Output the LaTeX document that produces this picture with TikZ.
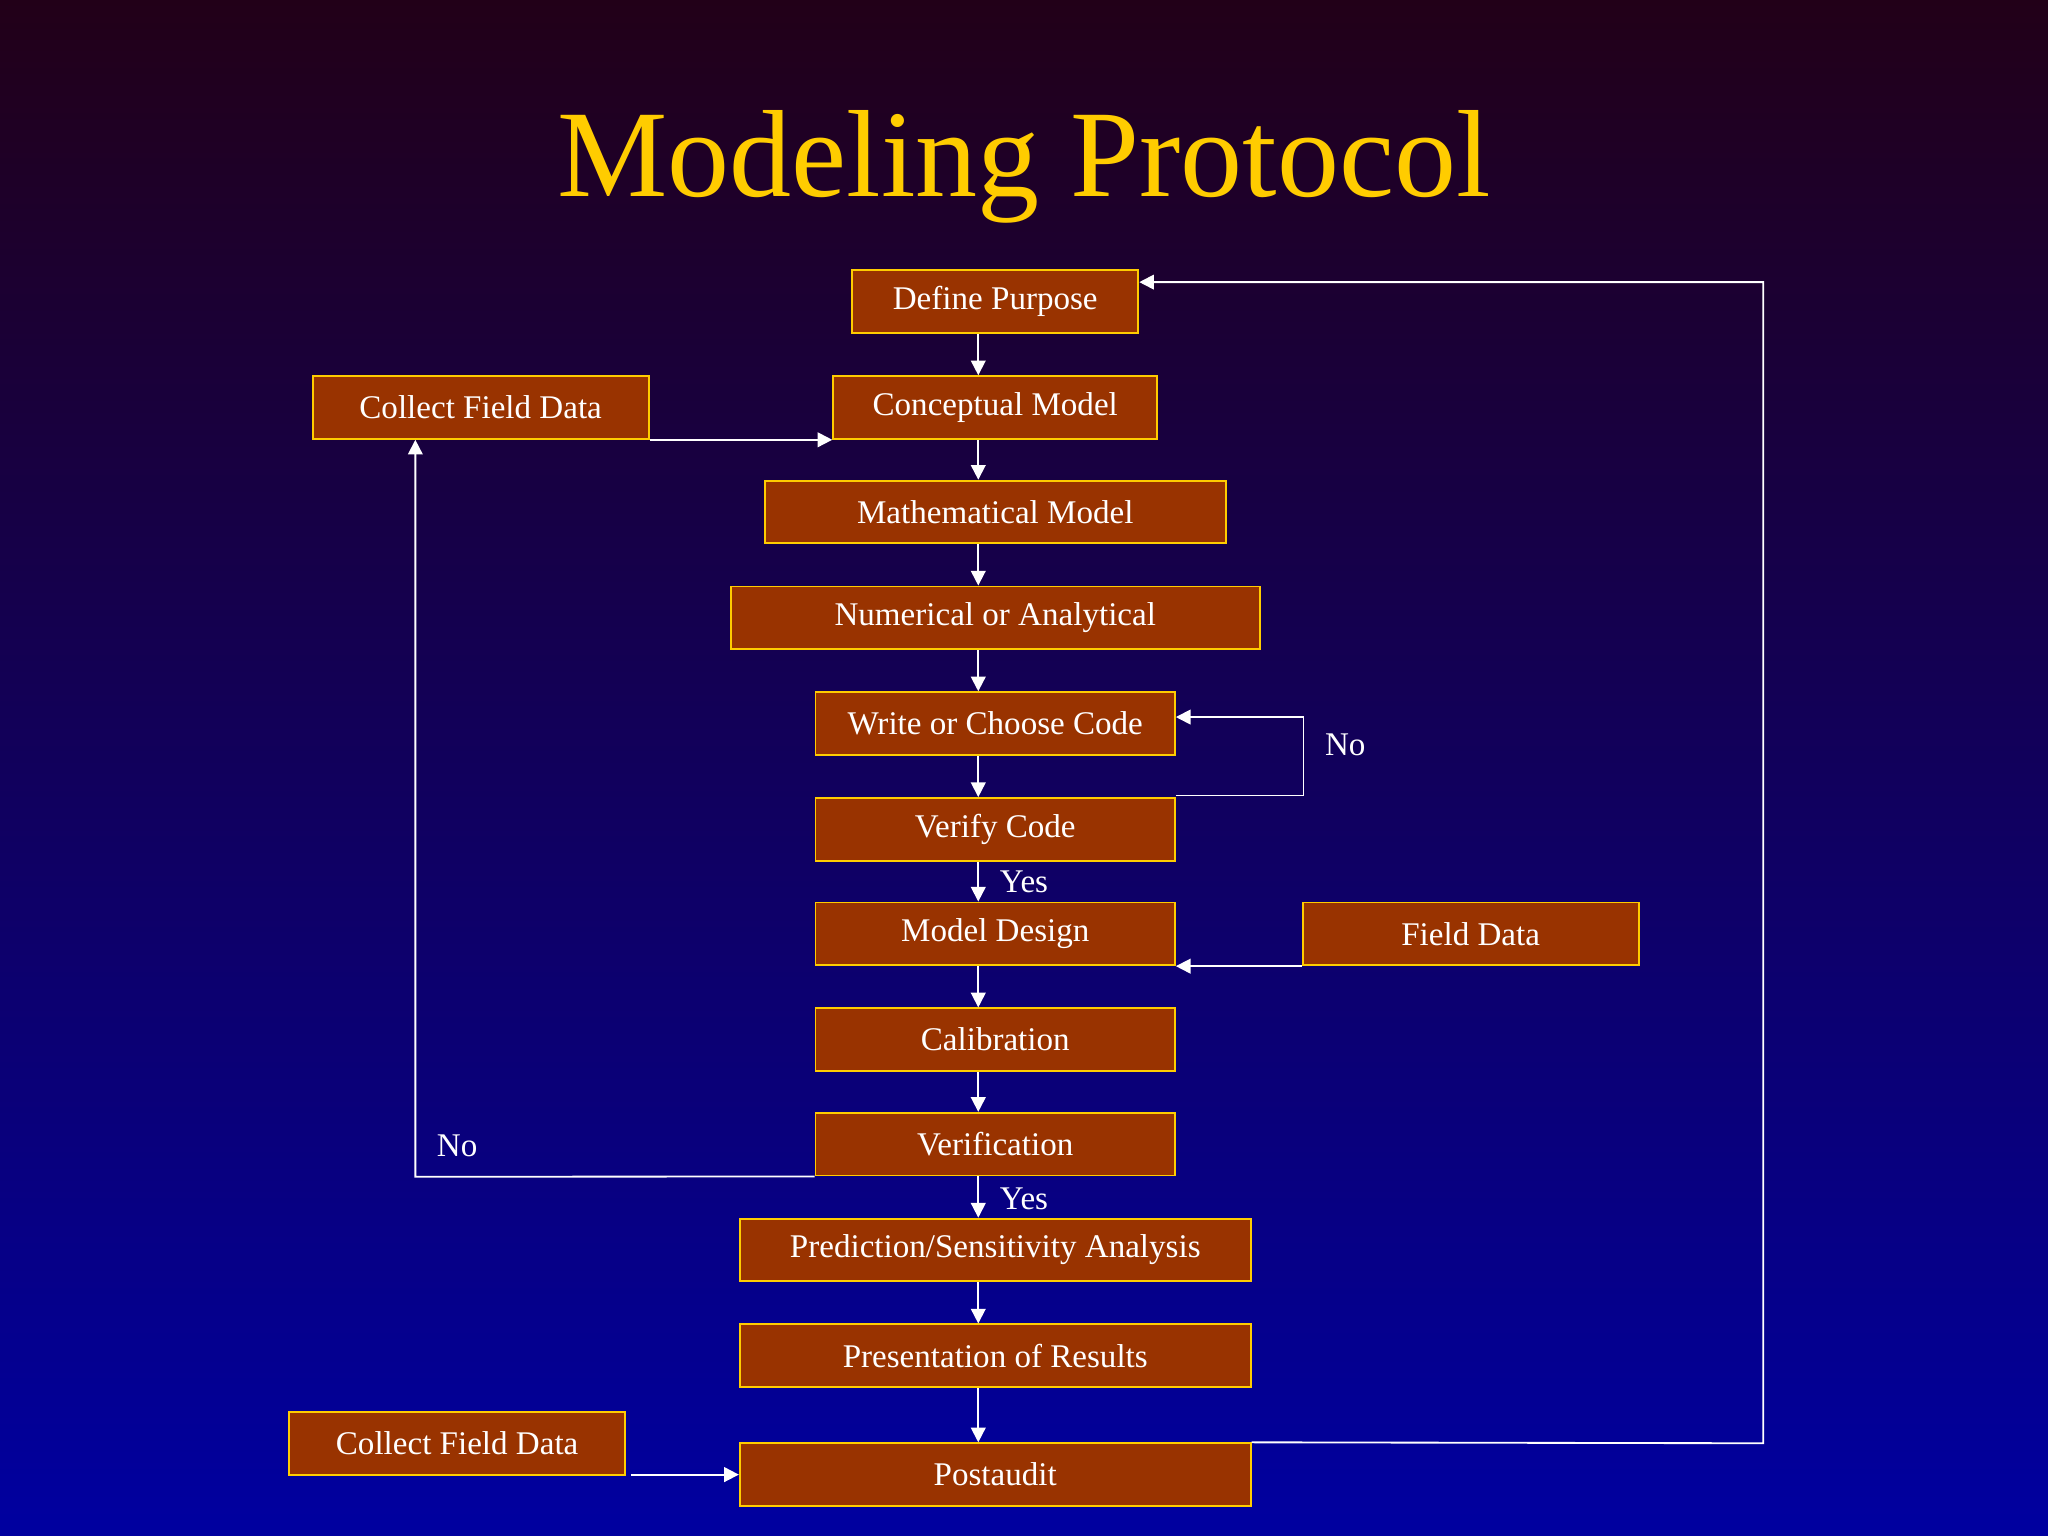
\documentclass[tikz,border=0pt]{standalone}
\usepackage{fontspec}
\setmainfont{Liberation Serif}
\usetikzlibrary{arrows.meta,calc}
\definecolor{mybrown}{RGB}{153,51,0}
\definecolor{myyellow}{RGB}{255,204,0}
\definecolor{mytop}{RGB}{34,0,24}
\definecolor{mybottom}{RGB}{0,0,160}
\tikzset{
  box/.style={draw=myyellow, fill=mybrown, line width=0.4pt, text=white,
    minimum height=4.8mm, inner sep=0pt, font=\fontsize{7.2}{8}\selectfont},
  arr/.style={-{Triangle[width=3.2pt,length=3.2pt]}, draw=white, line width=0.4pt},
  lbl/.style={text=white, font=\fontsize{7.2}{8}\selectfont, inner sep=0pt}
}
\begin{document}
\begin{tikzpicture}[x=0.01cm, y=-0.01cm]

	% background
	\shade [top color=mytop, bottom color=mybottom] (0,0) rectangle (1568,1176);
	\useasboundingbox (0,0) rectangle (1568,1176);

	% title
	\node [text=myyellow, font=\fontsize{27}{30}\selectfont] (title) at (784,128) {Modeling Protocol};

	% boxes
	\node [box, minimum width=21.9mm] (dp) at (762,231) {Define Purpose};
	\node [box, minimum width=24.8mm] (cm) at (762,312) {Conceptual Model};
	\node [box, minimum width=25.7mm] (cfa) at (368,312) {Collect Field Data};
	\node [box, minimum width=35.3mm] (mm) at (762,392) {Mathematical Model};
	\node [box, minimum width=40.5mm] (na) at (762,473) {Numerical or Analytical};
	\node [box, minimum width=27.5mm] (wc) at (762,554) {Write or Choose Code};
	\node [box, minimum width=27.5mm] (vc) at (762,635) {Verify Code};
	\node [box, minimum width=27.5mm] (md) at (762,715) {Model Design};
	\node [box, minimum width=25.7mm] (fd) at (1126,715) {Field Data};
	\node [box, minimum width=27.5mm] (cal) at (762,796) {Calibration};
	\node [box, minimum width=27.5mm] (ver) at (762,876) {Verification};
	\node [box, minimum width=39.1mm] (pred) at (762,957) {Prediction/Sensitivity Analysis};
	\node [box, minimum width=39.1mm] (pres) at (762,1038) {Presentation of Results};
	\node [box, minimum width=39.1mm] (post) at (762,1129) {Postaudit};
	\node [box, minimum width=25.7mm] (cfb) at (350,1105) {Collect Field Data};

	% main column
	\foreach \a/\b in {dp/cm, cm/mm, mm/na, na/wc, wc/vc, vc/md, md/cal, cal/ver, ver/pred, pred/pres, pres/post}
		\draw [arr] (\a.south -| 749,0) -- (\b.north -| 749,0);

	% side connections
	\draw [arr] (cfa.south east) -- (cm.south west);
	\draw [arr] (vc.east |- 0,609) -- (998,609) -- (998,549) -- (wc.east |- 0,549);
	\draw [arr] (fd.south west) -- (md.south east);
	\draw [arr] (ver.south west) -- (318,901) -- (cfa.south -| 318,0);
	\draw [arr] (post.north east) -- (1350,1105) -- (1350,216) -- (dp.east |- 0,216);
	\draw [arr] (483,1129) -- (post.west);

	% labels
	\node [lbl] (no1) at (1030,570) {No};
	\node [lbl] (no2) at (350,877) {No};
	\node [lbl] (yes1) at (784,675) {Yes};
	\node [lbl] (yes2) at (784,918) {Yes};

\end{tikzpicture}
\end{document}
